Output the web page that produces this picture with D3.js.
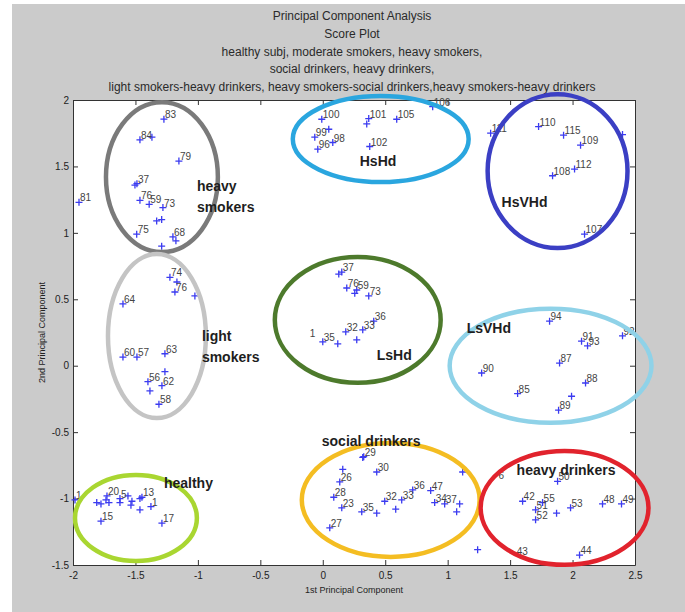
<!DOCTYPE html>
<html>
<head>
<meta charset="utf-8">
<script src="https://cdn.jsdelivr.net/npm/d3@7"></script>
<style>
  html, body { margin: 0; padding: 0; background: #fff; }
  svg { display: block; }
</style>
</head>
<body>
<div id="chart"></div>
<script>
// score plot points: [pc1, pc2, label]  ("" = no label)
const healthy = [
  [-1.984, -1.01, "1"], [-1.81, -1.03, ""], [-1.776, -1.04, ""], [-1.736, -1.01, ""],
  [-1.728, -0.98, "20"], [-1.712, -1.03, ""], [-1.624, -1.00, "5"], [-1.624, -1.03, ""],
  [-1.56, -0.98, ""], [-1.528, -1.02, ""], [-1.536, -1.05, ""], [-1.464, -1.00, ""],
  [-1.448, -0.99, "13"], [-1.464, -1.085, ""], [-1.376, -1.06, "1"],
  [-1.776, -1.17, "15"], [-1.288, -1.185, "17"]
];
const lightSmokers = [
  [-1.224, 0.665, "74"], [-1.168, 0.63, ""], [-1.184, 0.555, "76"], [-1.024, 0.525, ""],
  [-1.6, 0.465, "64"], [-1.6, 0.065, "60"], [-1.488, 0.065, "57"], [-1.264, 0.09, "63"],
  [-1.264, -0.045, ""], [-1.4, -0.12, "56"], [-1.288, -0.15, "62"], [-1.384, -0.19, ""],
  [-1.312, -0.29, "58"]
];
const heavySmokers = [
  [-1.272, 1.856, "83"], [-1.464, 1.70, "84"], [-1.368, 1.72, ""], [-1.152, 1.54, "79"],
  [-1.504, 1.36, ""], [-1.488, 1.37, "37"], [-1.952, 1.23, "81"], [-1.464, 1.245, "76"],
  [-1.39, 1.215, "59"], [-1.28, 1.19, "73"], [-1.33, 1.09, ""], [-1.29, 1.10, ""],
  [-1.49, 0.99, "75"], [-1.2, 0.97, "68"], [-1.176, 0.94, ""], [-1.29, 0.90, ""]
];
const socialDrinkers = [
  [0.32, -0.69, ""], [0.328, -0.685, "29"], [0.16, -0.78, ""], [0.432, -0.80, "30"],
  [0.136, -0.875, "26"], [0.088, -0.99, "28"], [0.152, -1.07, "23"], [0.312, -1.10, "35"],
  [0.432, -1.11, ""], [0.496, -1.02, "32"], [0.584, -1.08, ""], [0.632, -1.01, "33"],
  [0.72, -0.935, "36"], [0.864, -0.94, "47"], [0.896, -1.03, "34"], [0.976, -1.04, "37"],
  [1.096, -1.04, ""], [1.072, -1.10, ""], [1.12, -0.80, ""], [0.056, -1.22, "27"],
  [1.24, -1.385, ""]
];
const heavyDrinkers = [
  [1.88, -0.87, "50"], [1.6, -1.02, "42"], [1.76, -1.03, "55"], [1.704, -1.085, "51"],
  [1.704, -1.16, "52"], [1.872, -1.11, ""], [1.984, -1.07, "53"], [2.24, -1.04, "48"],
  [2.392, -1.04, "49"], [2.056, -1.425, "44"]
];
const lsHd = [
  [0.128, 0.69, ""], [0.152, 0.705, "37"], [0.192, 0.585, "76"], [0.256, 0.545, ""],
  [0.272, 0.57, "59"], [0.368, 0.525, "73"], [0.408, 0.335, "36"], [0.32, 0.27, "33"],
  [0.184, 0.255, "32"], [0.272, 0.195, ""], [0.0, 0.18, "35"], [0.12, 0.165, ""]
];
const hsHd = [
  [-0.008, 1.855, "100"], [-0.064, 1.72, "99"], [0.048, 1.78, ""], [-0.04, 1.63, "96"],
  [0.08, 1.68, "98"], [0.368, 1.86, "101"], [0.352, 1.82, ""], [0.592, 1.855, "105"],
  [0.376, 1.65, "102"], [0.88, 1.95, "106"]
];
const hsVHd = [
  [1.344, 1.75, "111"], [1.728, 1.80, "110"], [1.928, 1.735, "115"], [2.064, 1.66, "109"],
  [1.84, 1.43, "108"], [2.016, 1.48, "112"], [2.4, 1.74, ""], [2.096, 0.99, "107"]
];
const lsVHd = [
  [1.816, 0.335, "94"], [2.072, 0.185, "91"], [2.12, 0.15, "93"], [2.4, 0.225, "92"],
  [1.896, 0.02, "87"], [1.272, -0.055, "90"], [2.104, -0.13, "88"], [1.56, -0.21, "85"],
  [1.992, -0.23, ""], [1.888, -0.335, "89"]
];
// labels with no visible marker
const strayLabels = [[-0.112, 0.21, "1"], [1.545, -1.432, "43"], [1.40, -0.86, "6"]];

// groups: name lines, ellipse centre/radii (data units), label anchor (data units)
const groupNames = [["heavy", "smokers"], ["HsHd"], ["HsVHd"], ["light", "smokers"], ["LsHd"],
  ["LsVHd"], ["healthy"], ["social drinkers"], ["heavy drinkers"]];
const ellipseCentres = [[-1.288, 1.42], [0.464, 1.706], [1.88, 1.465], [-1.328, 0.223], [0.28, 0.345],
  [1.824, 0.0], [-1.496, -1.146], [0.544, -1.01], [1.936, -1.07]];
const ellipseRadii = [[0.448, 0.564], [0.704, 0.324], [0.56, 0.579], [0.392, 0.617], [0.664, 0.474],
  [0.808, 0.429], [0.488, 0.324], [0.712, 0.429], [0.672, 0.429]];
const labelAnchors = [[-1.008, 1.313], [0.296, 1.503], [1.432, 1.194], [-0.968, 0.186], [0.432, 0.043],
  [1.152, 0.246], [-1.272, -0.92], [-0.008, -0.604], [1.552, -0.822]];
const ellipseColors = ["#7a7a7a", "#2aa6df", "#3b3fc4", "#c4c4c4", "#4d7a2c",
  "#8fd2e8", "#a9d631", "#f4bd22", "#e1232d"];

const xTicks = [-2, -1.5, -1, -0.5, 0, 0.5, 1, 1.5, 2, 2.5];
const yTicks = [-1.5, -1, -0.5, 0, 0.5, 1, 1.5, 2];
const titleLines = [
  "Principal Component Analysis",
  "Score Plot",
  "healthy subj, moderate smokers, heavy smokers,",
  "social drinkers, heavy drinkers,",
  "light smokers-heavy drinkers, heavy smokers-social drinkers,heavy smokers-heavy drinkers"
];

const width = 685, height = 612;
const marginLeft = 73, marginRight = 50, marginTop = 100, marginBottom = 47;

const x = d3.scaleLinear().domain([-2, 2.5]).range([marginLeft, width - marginRight]);
const y = d3.scaleLinear().domain([-1.5, 2]).range([height - marginBottom, marginTop]);

const svg = d3.select("#chart").append("svg")
  .attr("width", width)
  .attr("height", height)
  .attr("viewBox", [0, 0, width, height])
  .style("font-family", "'Liberation Sans', Arial, sans-serif");

// grey figure background
svg.append("rect")
  .attr("x", 12).attr("y", 4)
  .attr("width", width - 12).attr("height", height - 4)
  .attr("fill", "#cbcbcb");

// white axes box
svg.append("rect")
  .attr("x", x(-2)).attr("y", y(2))
  .attr("width", x(2.5) - x(-2)).attr("height", y(-1.5) - y(2))
  .attr("fill", "#fff");

// title
svg.append("g")
  .selectAll("text")
  .data(titleLines)
  .join("text")
  .attr("x", (x(-2) + x(2.5)) / 2 - 2)
  .attr("y", (d, i) => 20 + i * 17.8)
  .attr("text-anchor", "middle")
  .attr("font-size", 12)
  .attr("fill", "#2a2a2a")
  .text(d => d);

// axes (matlab style: inward ticks on all four sides)
const fmt = d => String(d);
svg.append("g")
  .attr("transform", `translate(0,${y(-1.5)})`)
  .call(d3.axisBottom(x).tickValues(xTicks).tickFormat(fmt).tickSize(-5).tickSizeOuter(0).tickPadding(5))
  .call(g => g.selectAll("text").attr("font-size", 10).attr("fill", "#222").attr("dy", "0.9em"));
svg.append("g")
  .attr("transform", `translate(0,${y(2)})`)
  .call(d3.axisTop(x).tickValues(xTicks).tickFormat("").tickSize(-5).tickSizeOuter(0));
svg.append("g")
  .attr("transform", `translate(${x(-2)},0)`)
  .call(d3.axisLeft(y).tickValues(yTicks).tickFormat(fmt).tickSize(-5).tickSizeOuter(0).tickPadding(4))
  .call(g => g.selectAll("text").attr("font-size", 10).attr("fill", "#222"));
svg.append("g")
  .attr("transform", `translate(${x(2.5)},0)`)
  .call(d3.axisRight(y).tickValues(yTicks).tickFormat("").tickSize(-5).tickSizeOuter(0));
svg.selectAll(".domain, .tick line").attr("stroke", "#333");

// axis titles
svg.append("text")
  .attr("x", (x(-2) + x(2.5)) / 2)
  .attr("y", 593)
  .attr("text-anchor", "middle")
  .attr("font-size", 9)
  .attr("fill", "#222")
  .text("1st Principal Component");
svg.append("text")
  .attr("transform", `translate(45,${(y(2) + y(-1.5)) / 2}) rotate(-90)`)
  .attr("text-anchor", "middle")
  .attr("font-size", 9)
  .attr("fill", "#222")
  .text("2nd Principal Component");

// points
const allPoints = [].concat(healthy, lightSmokers, heavySmokers, socialDrinkers, heavyDrinkers,
  lsHd, hsHd, hsVHd, lsVHd);

const pts = svg.append("g");
pts.selectAll("path")
  .data(allPoints)
  .join("path")
  .attr("transform", d => `translate(${x(d[0])},${y(d[1])})`)
  .attr("d", "M-3.5,0H3.5M0,-3.5V3.5")
  .attr("stroke", "#3b3bf0")
  .attr("stroke-width", 1.3)
  .attr("fill", "none");

pts.selectAll("text")
  .data(allPoints.filter(d => d[2] !== "").concat(strayLabels))
  .join("text")
  .attr("x", d => x(d[0]) + 1)
  .attr("y", d => y(d[1]) - 1)
  .attr("font-size", 10)
  .attr("fill", "#444")
  .text(d => d[2]);

// group ellipses
svg.append("g")
  .attr("fill", "none")
  .attr("stroke-width", 4.5)
  .selectAll("ellipse")
  .data(ellipseCentres)
  .join("ellipse")
  .attr("cx", d => x(d[0]))
  .attr("cy", d => y(d[1]))
  .attr("rx", (d, i) => x(ellipseRadii[i][0]) - x(0))
  .attr("ry", (d, i) => y(0) - y(ellipseRadii[i][1]))
  .attr("stroke", (d, i) => ellipseColors[i]);

// group names
svg.append("g")
  .selectAll("text")
  .data(groupNames)
  .join("text")
  .attr("x", (d, i) => x(labelAnchors[i][0]))
  .attr("y", (d, i) => y(labelAnchors[i][1]))
  .attr("font-size", 14)
  .attr("font-weight", "bold")
  .attr("fill", "#1e1e1e")
  .selectAll("tspan")
  .data(d => d)
  .join("tspan")
  .attr("x", function () { return this.parentNode.getAttribute("x"); })
  .attr("dy", (d, i) => i === 0 ? 0 : 21)
  .text(d => d);
</script>
</body>
</html>
